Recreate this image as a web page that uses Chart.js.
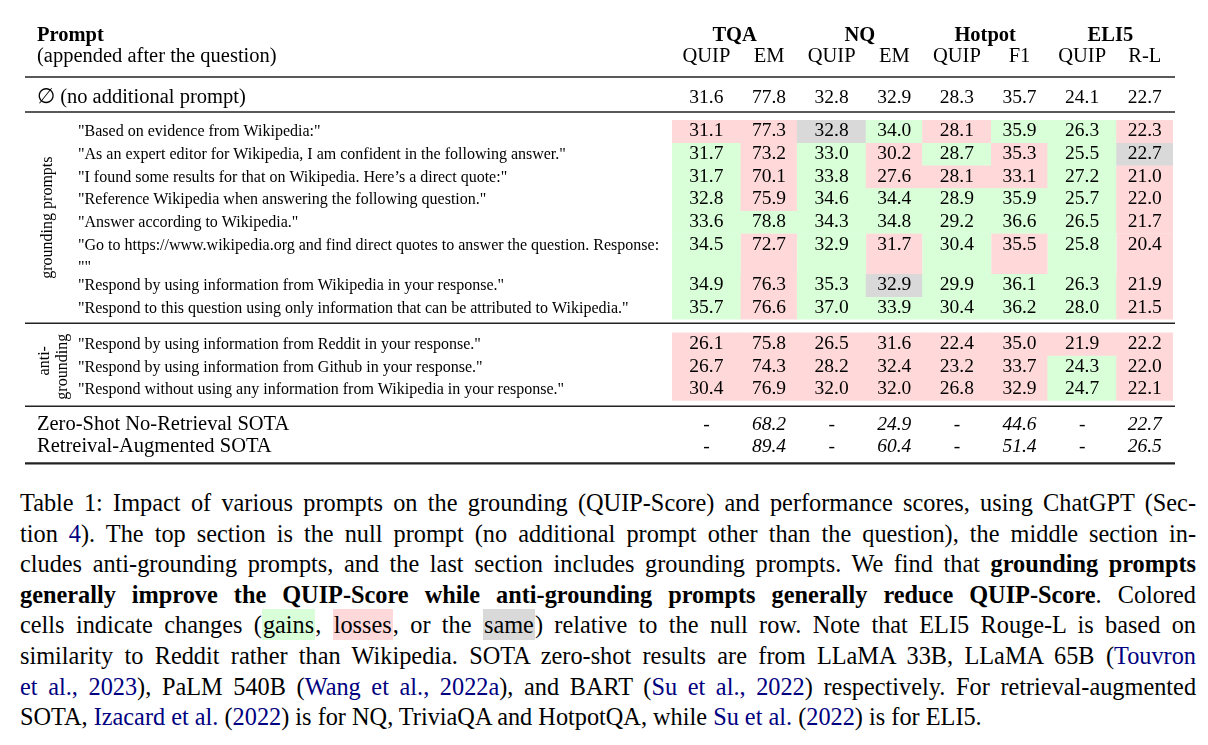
<!DOCTYPE html>
<html>
<head>
<meta charset="utf-8">
<script src="https://cdn.jsdelivr.net/npm/chart.js@4.4.0/dist/chart.umd.min.js"></script>
<style>
  html, body { margin: 0; padding: 0; background: #fff; }
  body { width: 1208px; height: 745px; position: relative; overflow: hidden; }
  #table { position: absolute; left: 0; top: 0; }
  .caption {
    position: absolute; left: 20px; top: 488px; width: 1176px;
    font-family: "Liberation Serif", "Times New Roman", serif;
    font-size: 24.3px; line-height: 30.6px; color: #000;
  }
  .caption div { text-align: justify; text-align-last: justify; word-spacing: -3px; }
  .caption div.last { text-align: left; text-align-last: left; word-spacing: 0; }
  .cite { color: #000080; }
  .gain { background: #d9ffd9; padding: 2px 1px; }
  .loss { background: #ffd9d9; padding: 2px 1px; }
  .same { background: #d9d9d9; padding: 2px 1px; }
</style>
</head>
<body>
<canvas id="table" width="1208" height="480"></canvas>
<div class="caption">
  <div>Table 1: Impact of various prompts on the grounding (QUIP-Score) and performance scores, using ChatGPT (Sec-</div>
  <div>tion <span class="cite">4</span>). The top section is the null prompt (no additional prompt other than the question), the middle section in-</div>
  <div>cludes anti-grounding prompts, and the last section includes grounding prompts. We find that <b>grounding prompts</b></div>
  <div><b>generally improve the QUIP-Score while anti-grounding prompts generally reduce QUIP-Score</b>. Colored</div>
  <div>cells indicate changes (<span class="gain">gains</span>, <span class="loss">losses</span>, or the <span class="same">same</span>) relative to the null row. Note that ELI5 Rouge-L is based on</div>
  <div>similarity to Reddit rather than Wikipedia. SOTA zero-shot results are from LLaMA 33B, LLaMA 65B (<span class="cite">Touvron</span></div>
  <div><span class="cite">et al., 2023</span>), PaLM 540B (<span class="cite">Wang et al., 2022a</span>), and BART (<span class="cite">Su et al., 2022</span>) respectively. For retrieval-augmented</div>
  <div class="last">SOTA, <span class="cite">Izacard et al.</span> (<span class="cite">2022</span>) is for NQ, TriviaQA and HotpotQA, while <span class="cite">Su et al.</span> (<span class="cite">2022</span>) is for ELI5.</div>
</div>
<script>
const datasetGroups = ['TQA', 'NQ', 'Hotpot', 'ELI5'];
const metricLabels = ['QUIP', 'EM', 'QUIP', 'EM', 'QUIP', 'F1', 'QUIP', 'R-L'];

const nullLabel = '\u2205 (no additional prompt)';
const nullScores = [31.6, 77.8, 32.8, 32.9, 28.3, 35.7, 24.1, 22.7];

const groundingPrompts = [
  '"Based on evidence from Wikipedia:"',
  '"As an expert editor for Wikipedia, I am confident in the following answer."',
  '"I found some results for that on Wikipedia. Here\u2019s a direct quote:"',
  '"Reference Wikipedia when answering the following question."',
  '"Answer according to Wikipedia."',
  ['"Go to https://www.wikipedia.org and find direct quotes to answer the question. Response:', '""'],
  '"Respond by using information from Wikipedia in your response."',
  '"Respond to this question using only information that can be attributed to Wikipedia."'
];
const groundingScores = [
  [31.1, 77.3, 32.8, 34.0, 28.1, 35.9, 26.3, 22.3],
  [31.7, 73.2, 33.0, 30.2, 28.7, 35.3, 25.5, 22.7],
  [31.7, 70.1, 33.8, 27.6, 28.1, 33.1, 27.2, 21.0],
  [32.8, 75.9, 34.6, 34.4, 28.9, 35.9, 25.7, 22.0],
  [33.6, 78.8, 34.3, 34.8, 29.2, 36.6, 26.5, 21.7],
  [34.5, 72.7, 32.9, 31.7, 30.4, 35.5, 25.8, 20.4],
  [34.9, 76.3, 35.3, 32.9, 29.9, 36.1, 26.3, 21.9],
  [35.7, 76.6, 37.0, 33.9, 30.4, 36.2, 28.0, 21.5]
];

const antiPrompts = [
  '"Respond by using information from Reddit in your response."',
  '"Respond by using information from Github in your response."',
  '"Respond without using any information from Wikipedia in your response."'
];
const antiScores = [
  [26.1, 75.8, 26.5, 31.6, 22.4, 35.0, 21.9, 22.2],
  [26.7, 74.3, 28.2, 32.4, 23.2, 33.7, 24.3, 22.0],
  [30.4, 76.9, 32.0, 32.0, 26.8, 32.9, 24.7, 22.1]
];

const sotaLabels = ['Zero-Shot No-Retrieval SOTA', 'Retreival-Augmented SOTA'];
const sotaZeroShot = [null, 68.2, null, 24.9, null, 44.6, null, 22.7];
const sotaRetrieval = [null, 89.4, null, 60.4, null, 51.4, null, 26.5];

// layout: QUIP columns are a bit wider than the metric columns
const colWidths = [1.22, 1, 1.22, 1, 1.22, 1, 1.22, 1];
const colEdges = colWidths.reduce((a, w) => { a.push(a[a.length - 1] + w); return a; }, [0]);
const twoLineSpan = 1.8;
const sectionGap = 0.6;

const GAIN = '#d9ffd9', LOSS = '#ffd9d9', SAME = '#d9d9d9';
const cellColor = (v, j) => v > nullScores[j] ? GAIN : (v < nullScores[j] ? LOSS : SAME);

const rows = [];
let cursor = 0;
function addRows(prompts, scores) {
  prompts.forEach((p, i) => {
    const lines = Array.isArray(p) ? p : [p];
    const span = lines.length > 1 ? twoLineSpan : 1;
    rows.push({ lines, scores: scores[i], span, center: cursor + span / 2 });
    cursor += span;
  });
}
addRows(groundingPrompts, groundingScores);
const groundingEnd = cursor;
cursor += sectionGap;
addRows(antiPrompts, antiScores);
const antiEnd = cursor;

const SERIF = '"Liberation Serif", "Times New Roman", serif';
const colCenter = j => (colEdges[j] + colEdges[j + 1]) / 2;

function text(ctx, str, px, py, font, align) {
  ctx.font = font;
  ctx.textAlign = align || 'left';
  ctx.textBaseline = 'alphabetic';
  ctx.fillText(str, px, py);
}

function rule(ctx, py, x0, x1, w) {
  ctx.beginPath();
  ctx.lineWidth = w;
  ctx.strokeStyle = '#222';
  ctx.moveTo(x0, py);
  ctx.lineTo(x1, py);
  ctx.stroke();
}

function rotated(ctx, str, cx, cy, font) {
  ctx.save();
  ctx.translate(cx, cy);
  ctx.rotate(-Math.PI / 2);
  ctx.font = font;
  ctx.textAlign = 'center';
  ctx.textBaseline = 'middle';
  ctx.fillText(str, 0, 0);
  ctx.restore();
}

const tablePlugin = {
  id: 'tableText',
  afterDatasetsDraw(chart) {
    const { ctx, chartArea, scales: { x, y } } = chart;
    const top = chartArea.top;
    const left = 25, right = chartArea.right + 2;
    const unit = y.getPixelForValue(1) - y.getPixelForValue(0);
    const headFont = '20.5px ' + SERIF;
    const headBold = 'bold 20.5px ' + SERIF;
    const numFont = '19.5px ' + SERIF;
    const numItalic = 'italic 19.5px ' + SERIF;
    const promptFont = '16px ' + SERIF;
    ctx.save();
    ctx.fillStyle = '#000';

    // header
    text(ctx, 'Prompt', 37, top - 79, headBold);
    text(ctx, '(appended after the question)', 37, top - 58, headFont);
    datasetGroups.forEach((g, k) => {
      const cx = x.getPixelForValue((colEdges[2 * k] + colEdges[2 * k + 2]) / 2);
      text(ctx, g, cx, top - 79, headBold, 'center');
    });
    metricLabels.forEach((m, j) => text(ctx, m, x.getPixelForValue(colCenter(j)), top - 58, headFont, 'center'));
    rule(ctx, top - 43, left, right, 1.4);

    // null row
    text(ctx, nullLabel, 37, top - 17, headFont);
    nullScores.forEach((v, j) => text(ctx, v.toFixed(1), x.getPixelForValue(colCenter(j)), top - 17, numFont, 'center'));
    rule(ctx, top - 8, left, right, 1.4);

    // prompt rows
    rows.forEach(r => {
      const rowTop = y.getPixelForValue(r.center - r.span / 2);
      const base = rowTop + unit / 2 + 5;
      r.lines.forEach((ln, k) => text(ctx, ln, 78, base + k * 22, promptFont));
      r.scores.forEach((v, j) => text(ctx, v.toFixed(1), x.getPixelForValue(colCenter(j)), base, numFont, 'center'));
    });

    const gEnd = y.getPixelForValue(groundingEnd);
    const aEnd = y.getPixelForValue(antiEnd);
    rule(ctx, gEnd + 4, left, right, 1.4);
    rotated(ctx, 'grounding prompts', 48, (top + gEnd) / 2 - 2, promptFont);
    const aMid = (y.getPixelForValue(groundingEnd + sectionGap) + aEnd) / 2;
    rotated(ctx, 'anti-', 45, aMid - 6, promptFont);
    rotated(ctx, 'grounding', 63, aMid, promptFont);
    rule(ctx, aEnd + 5.5, left, right, 1.4);

    // SOTA rows
    [sotaZeroShot, sotaRetrieval].forEach((vals, i) => {
      const base = aEnd + 29.5 + i * 21.7;
      text(ctx, sotaLabels[i], 37, base, headFont);
      vals.forEach((v, j) => {
        const cx = x.getPixelForValue(colCenter(j));
        if (v === null) text(ctx, '-', cx, base, numFont, 'center');
        else text(ctx, v.toFixed(1), cx, base, numItalic, 'center');
      });
    });
    rule(ctx, aEnd + 62.6, left, right, 2.2);
    ctx.restore();
  }
};

new Chart(document.getElementById('table'), {
  type: 'bar',
  data: {
    datasets: rows.map(r => ({
      data: r.scores.map((v, j) => ({ x: [colEdges[j], colEdges[j + 1]], y: r.center })),
      backgroundColor: r.scores.map(cellColor),
      barPercentage: r.span,
      categoryPercentage: 1,
      grouped: false,
      borderWidth: 0
    }))
  },
  options: {
    indexAxis: 'y',
    responsive: false,
    animation: false,
    devicePixelRatio: 1,
    events: [],
    layout: { padding: { left: 672, right: 35, top: 120, bottom: 79.3 } },
    scales: {
      x: { type: 'linear', display: false, offset: false, min: 0, max: colEdges[colEdges.length - 1] },
      y: { type: 'linear', display: false, offset: false, reverse: true, min: 0, max: antiEnd, ticks: { stepSize: 50 } }
    },
    plugins: { legend: { display: false }, tooltip: { enabled: false } }
  },
  plugins: [tablePlugin]
});
</script>
</body>
</html>
